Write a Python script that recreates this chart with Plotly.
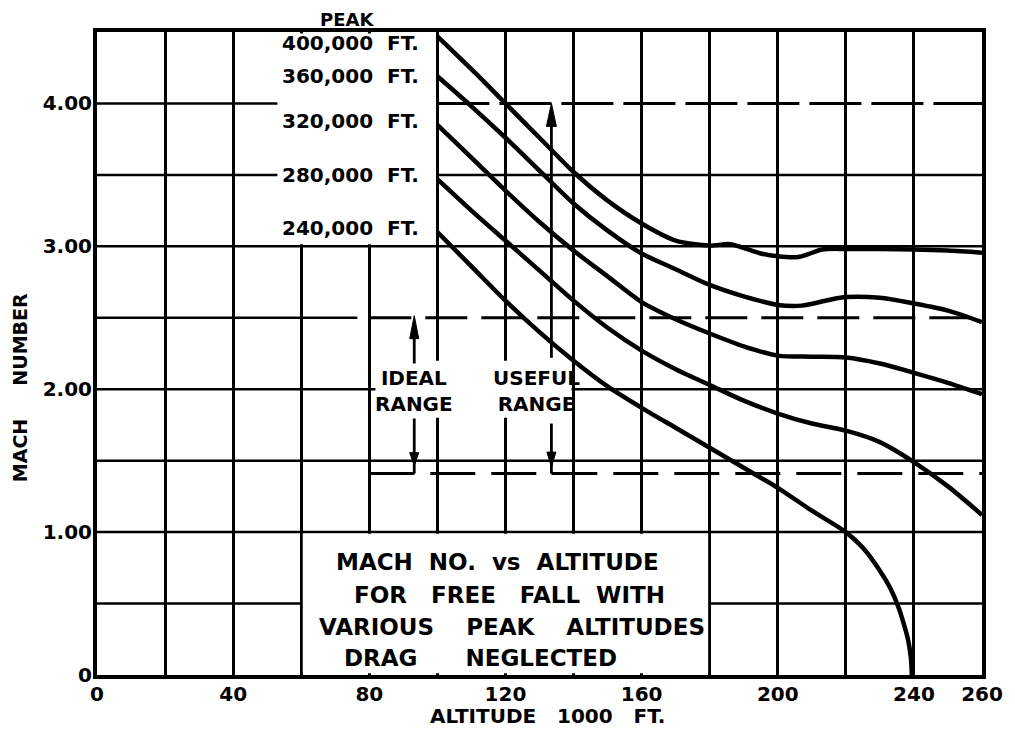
import plotly.graph_objects as go

# Free-fall Mach number vs altitude (thousands of ft) for each peak altitude
alt_400k = [100, 110, 120, 130, 140, 150, 160, 170, 180, 186, 195, 200, 206, 209, 213, 220, 240, 250, 260]
mach_400k = [4.47, 4.24, 4.00, 3.76, 3.52, 3.32, 3.16, 3.04, 3.005, 3.015, 2.95, 2.93, 2.925, 2.945, 2.978,
             2.982, 2.978, 2.97, 2.955]

alt_360k = [100, 110, 120, 130, 140, 150, 160, 170, 180, 190, 200, 207, 215, 220, 230, 240, 250, 260]
mach_360k = [4.19, 3.98, 3.76, 3.53, 3.30, 3.11, 2.95, 2.84, 2.73, 2.65, 2.59, 2.585, 2.625, 2.645, 2.64,
             2.60, 2.55, 2.47]

alt_320k = [100, 110, 120, 130, 140, 150, 160, 170, 180, 190, 200, 210, 220, 230, 240, 250, 260]
mach_320k = [3.85, 3.62, 3.39, 3.17, 2.97, 2.79, 2.61, 2.49, 2.39, 2.30, 2.235, 2.228, 2.222, 2.18, 2.115,
             2.045, 1.965]

alt_280k = [100, 110, 120, 130, 140, 150, 160, 170, 180, 190, 200, 210, 220, 230, 240, 250, 260]
mach_280k = [3.47, 3.25, 3.04, 2.83, 2.62, 2.43, 2.27, 2.14, 2.03, 1.92, 1.83, 1.76, 1.71, 1.63, 1.49,
             1.32, 1.12]

alt_240k = [100, 110, 120, 130, 140, 150, 160, 170, 180, 190, 200, 210, 220, 225, 230, 233, 235.4, 237,
            238.3, 239.1, 239.4]
mach_240k = [3.10, 2.86, 2.62, 2.40, 2.20, 2.02, 1.87, 1.73, 1.59, 1.45, 1.31, 1.15, 1.00, 0.89, 0.73,
             0.61, 0.478, 0.36, 0.245, 0.12, 0.0]

peak_labels = ["400,000\u00a0 FT.", "360,000\u00a0 FT.", "320,000\u00a0 FT.", "280,000\u00a0 FT.", "240,000\u00a0 FT."]
peak_label_y = [4.42, 4.195, 3.88, 3.50, 3.13]

# Range limits marked on the chart
useful_top = 4.0
ideal_top = 2.5
range_floor = 1.41

x_ticks = list(range(0, 261, 20))
x_ticktext = [str(v) if (v % 40 == 0 or v == 260) else "" for v in x_ticks]
y_ticks = [0, 1, 2, 3, 4]
y_ticktext = ["0", "1.00", "2.00", "3.00", "4.00"]
y_grid = [0.5, 1.0, 1.5, 2.0, 3.0, 3.5]

FONT = "DejaVu Sans"
INK = "black"
NB = "\u00a0"

fig = go.Figure()

for xs, ys in [(alt_400k, mach_400k), (alt_360k, mach_360k), (alt_320k, mach_320k),
               (alt_280k, mach_280k), (alt_240k, mach_240k)]:
    fig.add_trace(go.Scatter(x=xs, y=ys, mode="lines",
                             line=dict(color=INK, width=4.5, shape="spline", smoothing=0.8),
                             hoverinfo="skip", showlegend=False))

shapes = []
# horizontal grid lines
for yv in y_grid:
    shapes.append(dict(type="line", layer="below", xref="x", yref="y", x0=0, x1=260, y0=yv, y1=yv,
                       line=dict(color=INK, width=2.5)))
shapes.append(dict(type="line", layer="below", xref="x", yref="y", x0=0, x1=56.6, y0=4.0, y1=4.0,
                   line=dict(color=INK, width=2.5)))
shapes.append(dict(type="line", layer="below", xref="x", yref="y", x0=0, x1=76.5, y0=2.5, y1=2.5,
                   line=dict(color=INK, width=2.5)))

# white panels behind the lettering
for x0, x1, y0, y1 in [(53.0, 99.6, 3.015, 4.49), (81.8, 139.4, 1.80, 2.20), (60.45, 179.55, 0.012, 0.988)]:
    shapes.append(dict(type="rect", layer="between", xref="x", yref="y", x0=x0, x1=x1, y0=y0, y1=y1,
                       fillcolor="white", line=dict(width=0)))

# dashed range limits
shapes.append(dict(type="line", layer="above", xref="x", yref="y", x0=100, x1=260,
                   y0=useful_top, y1=useful_top, line=dict(color=INK, width=3, dash="52px,10px")))
shapes.append(dict(type="line", layer="above", xref="x", yref="y", x0=80, x1=260,
                   y0=ideal_top, y1=ideal_top, line=dict(color=INK, width=3, dash="42px,14px")))
shapes.append(dict(type="line", layer="above", xref="x", yref="y", x0=80, x1=260,
                   y0=range_floor, y1=range_floor, line=dict(color=INK, width=3, dash="45px,16px")))

# range arrows: shafts and corners
ideal_x, useful_x = 93.2, 133.5
for x0, y0, x1, y1 in [(ideal_x, 2.18, ideal_x, ideal_top - 0.1),
                       (ideal_x, 1.795, ideal_x, range_floor),
                       (80, range_floor, ideal_x, range_floor),
                       (useful_x, 2.22, useful_x, useful_top - 0.1),
                       (useful_x, 1.76, useful_x, range_floor),
                       (useful_x, range_floor, 137.6, range_floor)]:
    shapes.append(dict(type="line", layer="above", xref="x", yref="y", x0=x0, y0=y0, x1=x1, y1=y1,
                       line=dict(color=INK, width=2.8)))

# arrowheads (pixel-sized, anchored at their tips)
for ax, ay, path in [(ideal_x, ideal_top + 0.015, "M0,0 L-4.5,-23 L4.5,-23 Z"),
                     (useful_x, useful_top, "M0,0 L-5,-23 L5,-23 Z"),
                     (ideal_x, 1.465, "M0,0 L-4.5,13 L4.5,13 Z"),
                     (useful_x, 1.455, "M0,0 L-4.5,15 L4.5,15 Z")]:
    shapes.append(dict(type="path", layer="above", xref="x", yref="y", xsizemode="pixel",
                       ysizemode="pixel", xanchor=ax, yanchor=ay, path=path,
                       fillcolor=INK, line=dict(color=INK, width=1)))

annotations = []


def note(text, x, y, size, xref="x", yref="y", xanchor="center", angle=0):
    annotations.append(dict(text=text, x=x, y=y, xref=xref, yref=yref, xanchor=xanchor,
                            yanchor="middle", showarrow=False, textangle=angle,
                            font=dict(family=FONT, size=size, color=INK, weight="bold")))


for label, yv in zip(peak_labels, peak_label_y):
    note(label, 95.3, yv, 20, xanchor="right")
note("PEAK", 0.283, 1.0187, 18, xref="paper", yref="paper")

note("IDEAL<br>RANGE", ideal_x, 1.99, 20)
note("USEFUL<br>RANGE", 129.0, 1.99, 20)

note(f"MACH{NB} NO.{NB} vs{NB} ALTITUDE", 69.5, 0.794, 23, xanchor="left")
note(f"FOR{NB}{NB} FREE{NB}{NB} FALL{NB} WITH", 75.0, 0.561, 23, xanchor="left")
note(f"VARIOUS{NB}{NB}{NB} PEAK{NB}{NB}{NB} ALTITUDES", 64.5, 0.339, 23, xanchor="left")
note(f"DRAG{NB}{NB}{NB}{NB}{NB} NEGLECTED", 72.1, 0.118, 23, xanchor="left")

note(f"ALTITUDE{NB}{NB} 1000{NB}{NB} FT.", 0.5085, -0.0638, 20, xref="paper", yref="paper")
note(f"MACH{NB}{NB}{NB}{NB} NUMBER", -0.0868, 0.4463, 19, xref="paper", yref="paper", angle=-90)

axis_common = dict(showline=True, linecolor=INK, linewidth=4, mirror=True, zeroline=False, ticks="",
                   tickfont=dict(family=FONT, size=20, color=INK, weight="bold"))

fig.update_layout(
    width=1015, height=729, autosize=False,
    margin=dict(l=97, r=31, t=32, b=54),
    paper_bgcolor="white", plot_bgcolor="white",
    showlegend=False,
    xaxis=dict(range=[0, 260], tickmode="array", tickvals=x_ticks, ticktext=x_ticktext,
               showgrid=True, gridcolor=INK, gridwidth=2.5, ticklabelstandoff=-2, **axis_common),
    yaxis=dict(range=[0, 4.5], tickmode="array", tickvals=y_ticks, ticktext=y_ticktext,
               showgrid=False, ticklabelstandoff=-3, **axis_common),
    shapes=shapes,
    annotations=annotations,
)

fig.write_html("out.html")
